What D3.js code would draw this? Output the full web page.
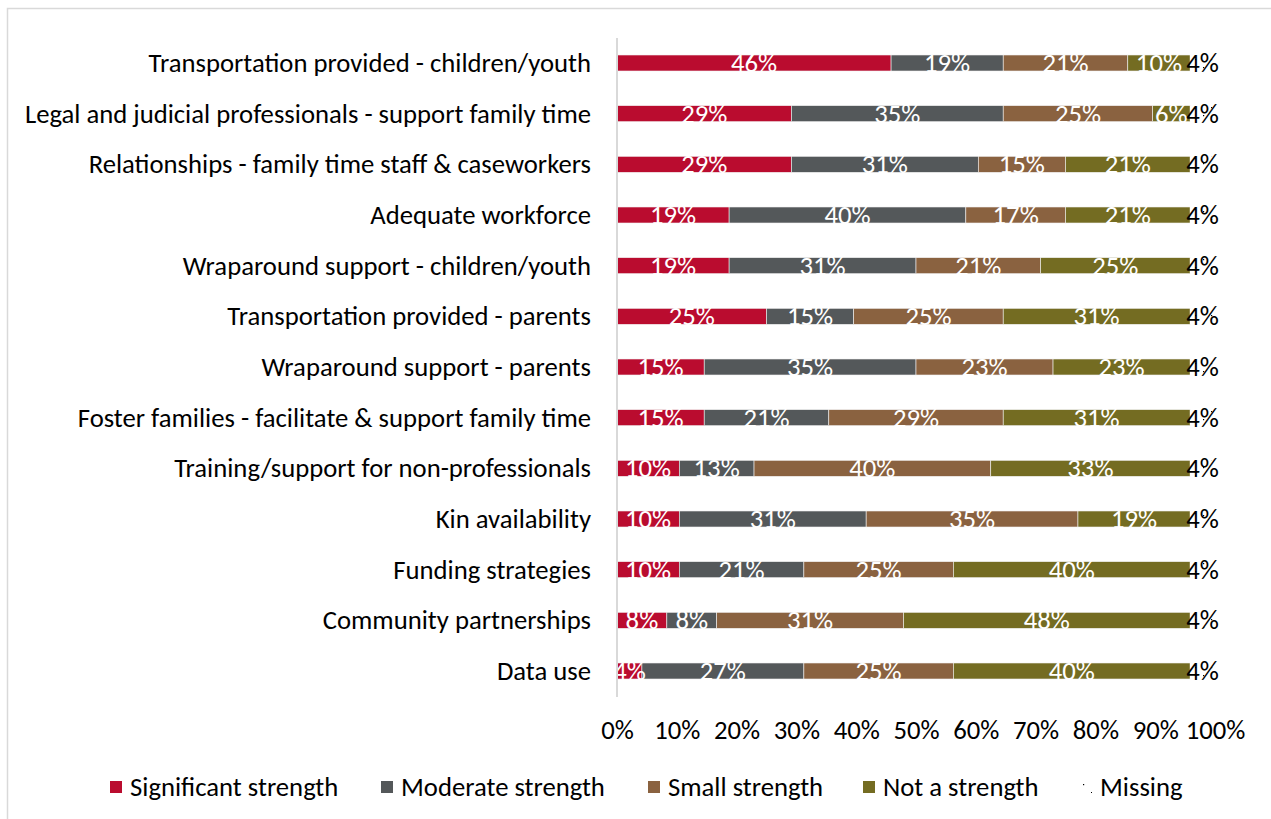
<!DOCTYPE html>
<html>
<head>
<meta charset="utf-8">
<script src="https://cdn.jsdelivr.net/npm/d3@7"></script>
<style>
  html, body { margin: 0; padding: 0; background: #fff; }
  svg { display: block; }
  text { font-family: Calibri, Carlito, Lato, sans-serif; }
</style>
</head>
<body>
<svg id="chart" width="1271" height="819"></svg>
<script>
// Survey items, top to bottom
const categories = [
  "Transportation provided - children/youth",
  "Legal and judicial professionals - support family time",
  "Relationships - family time staff & caseworkers",
  "Adequate workforce ",
  "Wraparound support - children/youth",
  "Transportation provided - parents",
  "Wraparound support - parents",
  "Foster families - facilitate & support family time",
  "Training/support for non-professionals",
  "Kin availability",
  "Funding strategies",
  "Community partnerships",
  "Data use"
];

const seriesNames = ["Significant strength", "Moderate strength", "Small strength", "Not a strength", "Missing"];

// Number of respondents per rating (48 respondents per item), same order as categories
const respondents = 48;
const significant = [22, 14, 14, 9, 9, 12, 7, 7, 5, 5, 5, 4, 2];
const moderate    = [9, 17, 15, 19, 15, 7, 17, 10, 6, 15, 10, 4, 13];
const small       = [10, 12, 7, 8, 10, 12, 11, 14, 19, 17, 12, 15, 12];
const notStrength = [5, 3, 10, 10, 12, 15, 11, 15, 16, 9, 19, 23, 19];
const missing     = [2, 2, 2, 2, 2, 2, 2, 2, 2, 2, 2, 2, 2];

const tickValues = [0, 10, 20, 30, 40, 50, 60, 70, 80, 90, 100];

const colors = ["#BA0C2F", "#54585A", "#8A6240", "#746C22", "url(#missingDots)"];
const labelColors = ["#fff", "#fff", "#fff", "#fff", "#000"];
const fontSize = 26.7;

const svg = d3.select("#chart");

// dotted fill for the "Missing" series
const defs = svg.append("defs");
const pat = defs.append("pattern")
  .attr("id", "missingDots")
  .attr("patternUnits", "userSpaceOnUse")
  .attr("width", 16).attr("height", 16);
pat.append("rect").attr("width", 16).attr("height", 16).attr("fill", "#fff");
pat.append("rect").attr("x", 3).attr("y", 3).attr("width", 1.2).attr("height", 1.2).attr("fill", "#000");
pat.append("rect").attr("x", 11).attr("y", 11).attr("width", 1.2).attr("height", 1.2).attr("fill", "#000");

// chart frame
svg.append("rect")
  .attr("x", 7.5).attr("y", 8.5)
  .attr("width", 1300).attr("height", 900)
  .attr("fill", "none")
  .attr("stroke", "#D9D9D9")
  .attr("stroke-width", 1.5);

const x = d3.scaleLinear().domain([0, 100]).range([617, 1215]);
const y = d3.scalePoint().domain(categories).range([63, 671]);
const barH = 16;

// convert counts to percentages of respondents
const rows = categories.map((c, i) => ({
  category: c,
  values: [significant[i], moderate[i], small[i], notStrength[i], missing[i]]
    .map(v => v / respondents * 100)
}));

const stack = d3.stack().keys(d3.range(5)).value((d, k) => d.values[k]);
const layers = stack(rows);

const gBars = svg.append("g");
layers.forEach((layer, k) => {
  gBars.append("g").selectAll("rect")
    .data(layer)
    .join("rect")
    .attr("x", d => x(d[0]))
    .attr("y", d => y(d.data.category) - barH / 2)
    .attr("width", d => x(d[1]) - x(d[0]))
    .attr("height", barH)
    .attr("fill", colors[k])
    .attr("stroke", k < 4 ? "#F2F2F2" : "none")
    .attr("stroke-width", 0.6);
});

// value labels
layers.forEach((layer, k) => {
  gBars.append("g").selectAll("text")
    .data(layer)
    .join("text")
    .attr("x", d => (x(d[0]) + x(d[1])) / 2)
    .attr("y", d => y(d.data.category))
    .attr("dy", "0.34em")
    .attr("text-anchor", "middle")
    .attr("font-size", fontSize)
    .attr("fill", labelColors[k])
    .text(d => Math.round(d[1] - d[0]) + "%");
});

// category axis line
svg.append("line")
  .attr("x1", 617).attr("x2", 617)
  .attr("y1", 38).attr("y2", 697)
  .attr("stroke", "#D9D9D9")
  .attr("stroke-width", 2);

// category labels
svg.append("g").selectAll("text")
  .data(categories)
  .join("text")
  .attr("x", 591)
  .attr("y", d => y(d))
  .attr("dy", "0.34em")
  .attr("text-anchor", "end")
  .attr("font-size", fontSize)
  .attr("fill", "#000")
  .text(d => d);

// percentage axis
const xAxis = d3.axisBottom(x)
  .tickValues(tickValues)
  .tickSize(0)
  .tickPadding(0)
  .tickFormat(d => d + "%");
const gx = svg.append("g").attr("transform", "translate(0,720)").call(xAxis);
gx.select(".domain").remove();
gx.selectAll("text")
  .attr("font-size", fontSize)
  .attr("fill", "#000")
  .attr("font-family", null);

// legend
const legendX = [110, 381, 648, 863, 1080];
const legend = svg.append("g");
seriesNames.forEach((name, k) => {
  const g = legend.append("g").attr("transform", `translate(${legendX[k]},781)`);
  g.append("rect").attr("width", 12).attr("height", 12).attr("fill", colors[k]);
  g.append("text")
    .attr("x", 20).attr("y", 6).attr("dy", "0.34em")
    .attr("font-size", fontSize).attr("fill", "#000")
    .text(name);
});
</script>
</body>
</html>
